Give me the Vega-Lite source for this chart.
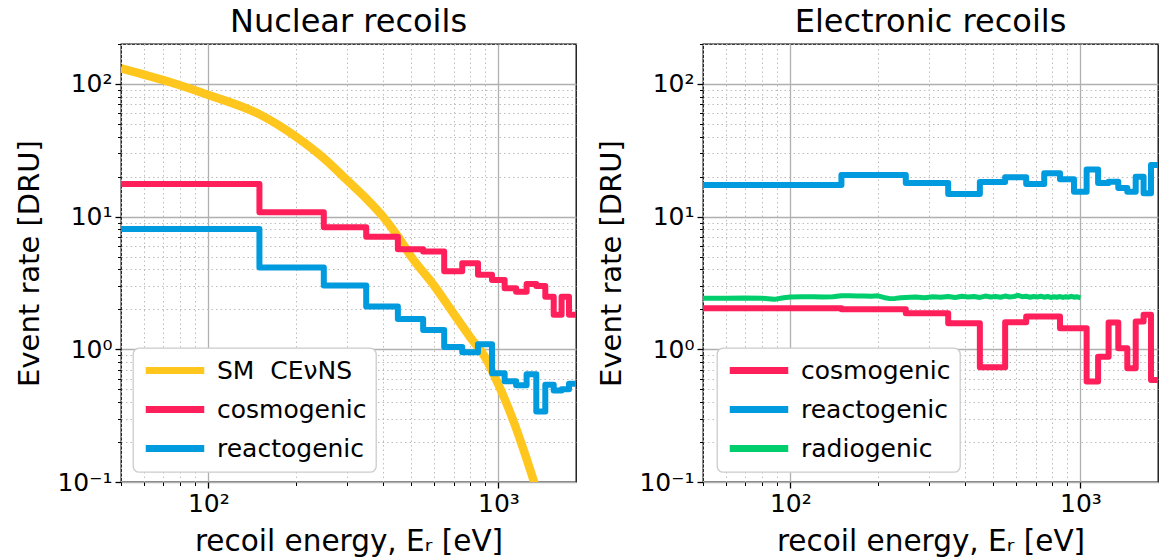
{
  "$schema": "https://vega.github.io/schema/vega-lite/v6.json",
  "background": "white",
  "padding": {"left": 15, "top": 5, "right": 0, "bottom": 0},
  "config": {
    "font": "DejaVu Sans",
    "view": {"stroke": "black", "strokeWidth": 1.3},
    "title": {"fontSize": 32, "fontWeight": "normal", "font": "DejaVu Sans", "color": "black", "offset": -7},
    "concat": {"spacing": 20},
    "legend": {
      "fillColor": "white",
      "strokeColor": "#cccccc",
      "strokeWidth": 1.3,
      "cornerRadius": 6,
      "padding": 9,
      "labelFontSize": 25,
      "labelFont": "DejaVu Sans",
      "labelColor": "black",
      "labelLimit": 400,
      "symbolType": "M-1,0H5",
      "symbolSize": 380,
      "symbolStrokeWidth": 7,
      "symbolFillColor": "transparent",
      "labelOffset": 48,
      "rowPadding": 10
    }
  },
  "resolve": {"scale": {"color": "independent"}, "legend": {"color": "independent"}},
  "hconcat": [
    {
      "width": 455,
      "height": 438,
      "title": "Nuclear recoils",
      "layer": [
        {
          "data": {"values": [
            {"series": "SM \u00a0CE\u03bdNS", "E": 50, "rate": 131},
            {"series": "SM \u00a0CE\u03bdNS", "E": 75, "rate": 102},
            {"series": "SM \u00a0CE\u03bdNS", "E": 100, "rate": 82.6},
            {"series": "SM \u00a0CE\u03bdNS", "E": 150, "rate": 59},
            {"series": "SM \u00a0CE\u03bdNS", "E": 200, "rate": 40.1},
            {"series": "SM \u00a0CE\u03bdNS", "E": 250, "rate": 27.5},
            {"series": "SM \u00a0CE\u03bdNS", "E": 300, "rate": 18.9},
            {"series": "SM \u00a0CE\u03bdNS", "E": 350, "rate": 13.7},
            {"series": "SM \u00a0CE\u03bdNS", "E": 400, "rate": 10},
            {"series": "SM \u00a0CE\u03bdNS", "E": 450, "rate": 7.1},
            {"series": "SM \u00a0CE\u03bdNS", "E": 500, "rate": 5.0},
            {"series": "SM \u00a0CE\u03bdNS", "E": 600, "rate": 3.02},
            {"series": "SM \u00a0CE\u03bdNS", "E": 700, "rate": 1.86},
            {"series": "SM \u00a0CE\u03bdNS", "E": 800, "rate": 1.23},
            {"series": "SM \u00a0CE\u03bdNS", "E": 900, "rate": 0.87},
            {"series": "SM \u00a0CE\u03bdNS", "E": 1000, "rate": 0.54},
            {"series": "SM \u00a0CE\u03bdNS", "E": 1100, "rate": 0.33},
            {"series": "SM \u00a0CE\u03bdNS", "E": 1200, "rate": 0.195},
            {"series": "SM \u00a0CE\u03bdNS", "E": 1300, "rate": 0.115},
            {"series": "SM \u00a0CE\u03bdNS", "E": 1400, "rate": 0.068}
          ]},
          "mark": {"type": "line", "interpolate": "monotone", "strokeWidth": 8.5, "clip": true},
          "encoding": {
            "x": {"field": "E", "type": "quantitative",
              "scale": {"type": "log", "domain": [50, 1850], "nice": false},
              "axis": {
                "values": [50,60,70,80,90,100,200,300,400,500,600,700,800,900,1000],
                "labelExpr": "datum.value == 100 ? '10²' : datum.value == 1000 ? '10³' : ''",
                "title": "recoil energy, Eᵣ [eV]",
                "grid": true,
                "gridColor": {"condition": {"test": "abs(log(datum.value)/LN10 - round(log(datum.value)/LN10)) < 0.001", "value": "#b0b0b0"}, "value": "#bdbdbd"},
                "gridDash": {"condition": {"test": "abs(log(datum.value)/LN10 - round(log(datum.value)/LN10)) < 0.001", "value": []}, "value": [1.5, 3]},
                "gridWidth": {"condition": {"test": "abs(log(datum.value)/LN10 - round(log(datum.value)/LN10)) < 0.001", "value": 1.3}, "value": 1},
                "tickSize": {"condition": {"test": "abs(log(datum.value)/LN10 - round(log(datum.value)/LN10)) < 0.001", "value": 6}, "value": 3.5},
                "tickWidth": {"condition": {"test": "abs(log(datum.value)/LN10 - round(log(datum.value)/LN10)) < 0.001", "value": 1.3}, "value": 1},
                "tickColor": "black",
                "domain": false,
                "labelFontSize": 25,
                "labelColor": "black",
                "labelPadding": 3,
                "labelOverlap": false,
                "labelFlush": false,
                "titleFontSize": 29.5,
                "titleFontWeight": "normal",
                "titleColor": "black",
                "titlePadding": 11
              }},
            "y": {"field": "rate", "type": "quantitative",
              "scale": {"type": "log", "domain": [0.1, 200], "nice": false},
              "axis": {
                "values": [0.1,0.2,0.3,0.4,0.5,0.6,0.7,0.8,0.9,1,2,3,4,5,6,7,8,9,10,20,30,40,50,60,70,80,90,100,200],
                "labelExpr": "datum.value == 100 ? '10²' : datum.value == 10 ? '10¹' : datum.value == 1 ? '10⁰' : abs(datum.value - 0.1) < 1e-9 ? '10⁻¹' : ''",
                "title": "Event rate [DRU]",
                "grid": true,
                "gridColor": {"condition": {"test": "abs(log(datum.value)/LN10 - round(log(datum.value)/LN10)) < 0.001", "value": "#b0b0b0"}, "value": "#bdbdbd"},
                "gridDash": {"condition": {"test": "abs(log(datum.value)/LN10 - round(log(datum.value)/LN10)) < 0.001", "value": []}, "value": [1.5, 3]},
                "gridWidth": {"condition": {"test": "abs(log(datum.value)/LN10 - round(log(datum.value)/LN10)) < 0.001", "value": 1.3}, "value": 1},
                "tickSize": {"condition": {"test": "abs(log(datum.value)/LN10 - round(log(datum.value)/LN10)) < 0.001", "value": 6}, "value": 3.5},
                "tickWidth": {"condition": {"test": "abs(log(datum.value)/LN10 - round(log(datum.value)/LN10)) < 0.001", "value": 1.3}, "value": 1},
                "tickColor": "black",
                "domain": false,
                "labelFontSize": 25,
                "labelColor": "black",
                "labelPadding": 3,
                "labelOverlap": false,
                "labelFlush": false,
                "titleFontSize": 29,
                "titleFontWeight": "normal",
                "titleColor": "black",
                "titlePadding": 12
              }},
            "color": {"field": "series", "type": "nominal",
              "scale": {"domain": ["SM \u00a0CE\u03bdNS", "cosmogenic", "reactogenic"], "range": ["#FFC61E", "#FF1F5B", "#009ADE"]},
              "legend": {"title": null, "orient": "none", "legendX": 12, "legendY": 304}}
          }
        },
        {
          "data": {"values": [
            {"series": "cosmogenic", "E": 50, "rate": 17.6},
            {"series": "cosmogenic", "E": 150, "rate": 10.8},
            {"series": "cosmogenic", "E": 250, "rate": 8.3},
            {"series": "cosmogenic", "E": 350, "rate": 7.05},
            {"series": "cosmogenic", "E": 450, "rate": 5.68},
            {"series": "cosmogenic", "E": 550, "rate": 5.45},
            {"series": "cosmogenic", "E": 650, "rate": 3.87},
            {"series": "cosmogenic", "E": 750, "rate": 4.46},
            {"series": "cosmogenic", "E": 850, "rate": 3.64},
            {"series": "cosmogenic", "E": 950, "rate": 3.33},
            {"series": "cosmogenic", "E": 1050, "rate": 2.89},
            {"series": "cosmogenic", "E": 1150, "rate": 2.72},
            {"series": "cosmogenic", "E": 1250, "rate": 3.1},
            {"series": "cosmogenic", "E": 1350, "rate": 3.0},
            {"series": "cosmogenic", "E": 1450, "rate": 2.49},
            {"series": "cosmogenic", "E": 1550, "rate": 1.82},
            {"series": "cosmogenic", "E": 1650, "rate": 2.49},
            {"series": "cosmogenic", "E": 1750, "rate": 1.82},
            {"series": "cosmogenic", "E": 1850, "rate": 1.82},
            {"series": "reactogenic", "E": 50, "rate": 8.07},
            {"series": "reactogenic", "E": 150, "rate": 4.13},
            {"series": "reactogenic", "E": 250, "rate": 3.02},
            {"series": "reactogenic", "E": 350, "rate": 2.1},
            {"series": "reactogenic", "E": 450, "rate": 1.69},
            {"series": "reactogenic", "E": 550, "rate": 1.4},
            {"series": "reactogenic", "E": 650, "rate": 1.04},
            {"series": "reactogenic", "E": 750, "rate": 0.95},
            {"series": "reactogenic", "E": 850, "rate": 1.09},
            {"series": "reactogenic", "E": 950, "rate": 0.66},
            {"series": "reactogenic", "E": 1050, "rate": 0.575},
            {"series": "reactogenic", "E": 1150, "rate": 0.535},
            {"series": "reactogenic", "E": 1250, "rate": 0.65},
            {"series": "reactogenic", "E": 1350, "rate": 0.34},
            {"series": "reactogenic", "E": 1450, "rate": 0.54},
            {"series": "reactogenic", "E": 1550, "rate": 0.49},
            {"series": "reactogenic", "E": 1650, "rate": 0.5},
            {"series": "reactogenic", "E": 1750, "rate": 0.55},
            {"series": "reactogenic", "E": 1850, "rate": 0.55}
          ]},
          "mark": {"type": "line", "interpolate": "step-after", "strokeWidth": 6, "strokeJoin": "round", "clip": true},
          "encoding": {
            "x": {"field": "E", "type": "quantitative"},
            "y": {"field": "rate", "type": "quantitative"},
            "color": {"field": "series", "type": "nominal"}
          }
        }
      ]
    },
    {
      "width": 455,
      "height": 438,
      "title": "Electronic recoils",
      "data": {"values": [
        {"series": "cosmogenic", "E": 50, "rate": 2.04},
        {"series": "cosmogenic", "E": 150, "rate": 2.0},
        {"series": "cosmogenic", "E": 250, "rate": 1.87},
        {"series": "cosmogenic", "E": 350, "rate": 1.57},
        {"series": "cosmogenic", "E": 450, "rate": 0.733},
        {"series": "cosmogenic", "E": 550, "rate": 1.6},
        {"series": "cosmogenic", "E": 650, "rate": 1.77},
        {"series": "cosmogenic", "E": 750, "rate": 1.77},
        {"series": "cosmogenic", "E": 850, "rate": 1.44},
        {"series": "cosmogenic", "E": 950, "rate": 1.44},
        {"series": "cosmogenic", "E": 1050, "rate": 0.571},
        {"series": "cosmogenic", "E": 1150, "rate": 0.88},
        {"series": "cosmogenic", "E": 1250, "rate": 1.59},
        {"series": "cosmogenic", "E": 1350, "rate": 1.02},
        {"series": "cosmogenic", "E": 1450, "rate": 0.72},
        {"series": "cosmogenic", "E": 1550, "rate": 1.62},
        {"series": "cosmogenic", "E": 1650, "rate": 1.82},
        {"series": "cosmogenic", "E": 1750, "rate": 0.588},
        {"series": "cosmogenic", "E": 1850, "rate": 0.588},
        {"series": "reactogenic", "E": 50, "rate": 17.3},
        {"series": "reactogenic", "E": 150, "rate": 20.6},
        {"series": "reactogenic", "E": 250, "rate": 17.9},
        {"series": "reactogenic", "E": 350, "rate": 14.8},
        {"series": "reactogenic", "E": 450, "rate": 18.2},
        {"series": "reactogenic", "E": 550, "rate": 19.8},
        {"series": "reactogenic", "E": 650, "rate": 17.6},
        {"series": "reactogenic", "E": 750, "rate": 21.2},
        {"series": "reactogenic", "E": 850, "rate": 19.1},
        {"series": "reactogenic", "E": 950, "rate": 15.4},
        {"series": "reactogenic", "E": 1050, "rate": 22.7},
        {"series": "reactogenic", "E": 1150, "rate": 17.9},
        {"series": "reactogenic", "E": 1250, "rate": 18.3},
        {"series": "reactogenic", "E": 1350, "rate": 16.4},
        {"series": "reactogenic", "E": 1450, "rate": 15.4},
        {"series": "reactogenic", "E": 1550, "rate": 20.0},
        {"series": "reactogenic", "E": 1650, "rate": 15.0},
        {"series": "reactogenic", "E": 1750, "rate": 24.5},
        {"series": "reactogenic", "E": 1850, "rate": 24.5},
        {"series": "radiogenic", "E": 50, "rate": 2.43},
        {"series": "radiogenic", "E": 60, "rate": 2.43},
        {"series": "radiogenic", "E": 70, "rate": 2.44},
        {"series": "radiogenic", "E": 80, "rate": 2.43},
        {"series": "radiogenic", "E": 88, "rate": 2.38},
        {"series": "radiogenic", "E": 95, "rate": 2.45},
        {"series": "radiogenic", "E": 100, "rate": 2.48},
        {"series": "radiogenic", "E": 110, "rate": 2.49},
        {"series": "radiogenic", "E": 120, "rate": 2.49},
        {"series": "radiogenic", "E": 130, "rate": 2.48},
        {"series": "radiogenic", "E": 140, "rate": 2.49},
        {"series": "radiogenic", "E": 150, "rate": 2.53},
        {"series": "radiogenic", "E": 160, "rate": 2.53},
        {"series": "radiogenic", "E": 170, "rate": 2.52},
        {"series": "radiogenic", "E": 180, "rate": 2.52},
        {"series": "radiogenic", "E": 190, "rate": 2.51},
        {"series": "radiogenic", "E": 200, "rate": 2.53},
        {"series": "radiogenic", "E": 210, "rate": 2.46},
        {"series": "radiogenic", "E": 220, "rate": 2.41},
        {"series": "radiogenic", "E": 230, "rate": 2.42},
        {"series": "radiogenic", "E": 240, "rate": 2.45},
        {"series": "radiogenic", "E": 250, "rate": 2.46},
        {"series": "radiogenic", "E": 270, "rate": 2.48},
        {"series": "radiogenic", "E": 290, "rate": 2.45},
        {"series": "radiogenic", "E": 310, "rate": 2.49},
        {"series": "radiogenic", "E": 330, "rate": 2.47},
        {"series": "radiogenic", "E": 350, "rate": 2.5},
        {"series": "radiogenic", "E": 370, "rate": 2.46},
        {"series": "radiogenic", "E": 390, "rate": 2.51},
        {"series": "radiogenic", "E": 410, "rate": 2.48},
        {"series": "radiogenic", "E": 430, "rate": 2.5},
        {"series": "radiogenic", "E": 450, "rate": 2.46},
        {"series": "radiogenic", "E": 470, "rate": 2.52},
        {"series": "radiogenic", "E": 490, "rate": 2.48},
        {"series": "radiogenic", "E": 510, "rate": 2.5},
        {"series": "radiogenic", "E": 530, "rate": 2.47},
        {"series": "radiogenic", "E": 550, "rate": 2.52},
        {"series": "radiogenic", "E": 570, "rate": 2.48},
        {"series": "radiogenic", "E": 590, "rate": 2.5},
        {"series": "radiogenic", "E": 610, "rate": 2.55},
        {"series": "radiogenic", "E": 630, "rate": 2.49},
        {"series": "radiogenic", "E": 650, "rate": 2.51},
        {"series": "radiogenic", "E": 670, "rate": 2.47},
        {"series": "radiogenic", "E": 690, "rate": 2.5},
        {"series": "radiogenic", "E": 710, "rate": 2.48},
        {"series": "radiogenic", "E": 730, "rate": 2.51},
        {"series": "radiogenic", "E": 750, "rate": 2.47},
        {"series": "radiogenic", "E": 770, "rate": 2.5},
        {"series": "radiogenic", "E": 790, "rate": 2.46},
        {"series": "radiogenic", "E": 810, "rate": 2.49},
        {"series": "radiogenic", "E": 830, "rate": 2.47},
        {"series": "radiogenic", "E": 850, "rate": 2.5},
        {"series": "radiogenic", "E": 870, "rate": 2.46},
        {"series": "radiogenic", "E": 890, "rate": 2.49},
        {"series": "radiogenic", "E": 910, "rate": 2.47},
        {"series": "radiogenic", "E": 930, "rate": 2.51},
        {"series": "radiogenic", "E": 950, "rate": 2.47},
        {"series": "radiogenic", "E": 970, "rate": 2.49},
        {"series": "radiogenic", "E": 990, "rate": 2.46},
        {"series": "radiogenic", "E": 1000, "rate": 2.45}
      ]},
      "layer": [
        {
          "transform": [{"filter": "datum.series != 'radiogenic'"}],
          "mark": {"type": "line", "interpolate": "step-after", "strokeWidth": 6, "strokeJoin": "round", "clip": true},
          "encoding": {
            "x": {"field": "E", "type": "quantitative",
              "scale": {"type": "log", "domain": [50, 1850], "nice": false},
              "axis": {
                "values": [50,60,70,80,90,100,200,300,400,500,600,700,800,900,1000],
                "labelExpr": "datum.value == 100 ? '10²' : datum.value == 1000 ? '10³' : ''",
                "title": "recoil energy, Eᵣ [eV]",
                "grid": true,
                "gridColor": {"condition": {"test": "abs(log(datum.value)/LN10 - round(log(datum.value)/LN10)) < 0.001", "value": "#b0b0b0"}, "value": "#bdbdbd"},
                "gridDash": {"condition": {"test": "abs(log(datum.value)/LN10 - round(log(datum.value)/LN10)) < 0.001", "value": []}, "value": [1.5, 3]},
                "gridWidth": {"condition": {"test": "abs(log(datum.value)/LN10 - round(log(datum.value)/LN10)) < 0.001", "value": 1.3}, "value": 1},
                "tickSize": {"condition": {"test": "abs(log(datum.value)/LN10 - round(log(datum.value)/LN10)) < 0.001", "value": 6}, "value": 3.5},
                "tickWidth": {"condition": {"test": "abs(log(datum.value)/LN10 - round(log(datum.value)/LN10)) < 0.001", "value": 1.3}, "value": 1},
                "tickColor": "black",
                "domain": false,
                "labelFontSize": 25,
                "labelColor": "black",
                "labelPadding": 3,
                "labelOverlap": false,
                "labelFlush": false,
                "titleFontSize": 29.5,
                "titleFontWeight": "normal",
                "titleColor": "black",
                "titlePadding": 11
              }},
            "y": {"field": "rate", "type": "quantitative",
              "scale": {"type": "log", "domain": [0.1, 200], "nice": false},
              "axis": {
                "values": [0.1,0.2,0.3,0.4,0.5,0.6,0.7,0.8,0.9,1,2,3,4,5,6,7,8,9,10,20,30,40,50,60,70,80,90,100,200],
                "labelExpr": "datum.value == 100 ? '10²' : datum.value == 10 ? '10¹' : datum.value == 1 ? '10⁰' : abs(datum.value - 0.1) < 1e-9 ? '10⁻¹' : ''",
                "title": "Event rate [DRU]",
                "grid": true,
                "gridColor": {"condition": {"test": "abs(log(datum.value)/LN10 - round(log(datum.value)/LN10)) < 0.001", "value": "#b0b0b0"}, "value": "#bdbdbd"},
                "gridDash": {"condition": {"test": "abs(log(datum.value)/LN10 - round(log(datum.value)/LN10)) < 0.001", "value": []}, "value": [1.5, 3]},
                "gridWidth": {"condition": {"test": "abs(log(datum.value)/LN10 - round(log(datum.value)/LN10)) < 0.001", "value": 1.3}, "value": 1},
                "tickSize": {"condition": {"test": "abs(log(datum.value)/LN10 - round(log(datum.value)/LN10)) < 0.001", "value": 6}, "value": 3.5},
                "tickWidth": {"condition": {"test": "abs(log(datum.value)/LN10 - round(log(datum.value)/LN10)) < 0.001", "value": 1.3}, "value": 1},
                "tickColor": "black",
                "domain": false,
                "labelFontSize": 25,
                "labelColor": "black",
                "labelPadding": 3,
                "labelOverlap": false,
                "labelFlush": false,
                "titleFontSize": 29,
                "titleFontWeight": "normal",
                "titleColor": "black",
                "titlePadding": 12
              }},
            "color": {"field": "series", "type": "nominal",
              "scale": {"domain": ["cosmogenic", "reactogenic", "radiogenic"], "range": ["#FF1F5B", "#009ADE", "#00CD6C"]},
              "legend": {"title": null, "orient": "none", "legendX": 14, "legendY": 304}}
          }
        },
        {
          "transform": [{"filter": "datum.series == 'radiogenic'"}],
          "mark": {"type": "line", "interpolate": "linear", "strokeWidth": 5, "strokeJoin": "round", "clip": true},
          "encoding": {
            "x": {"field": "E", "type": "quantitative"},
            "y": {"field": "rate", "type": "quantitative"},
            "color": {"field": "series", "type": "nominal"}
          }
        }
      ]
    }
  ]
}
